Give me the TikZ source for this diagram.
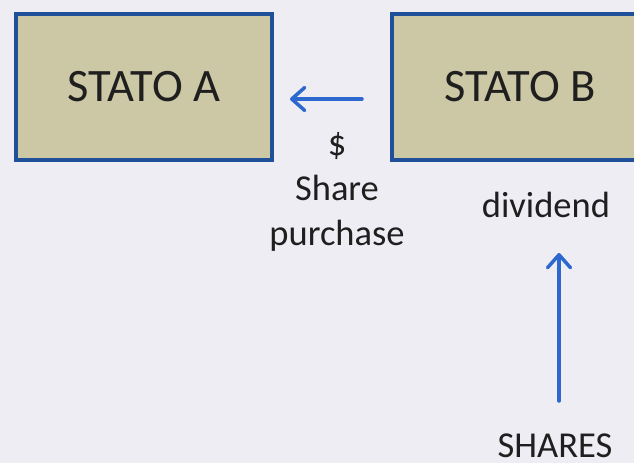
\documentclass[tikz,border=0pt]{standalone}
\usepackage{fontspec}
\setmainfont{Carlito}
\usetikzlibrary{arrows.meta}
\definecolor{bgcol}{HTML}{EDEDF3}
\definecolor{boxfill}{HTML}{CCC7A5}
\definecolor{boxline}{HTML}{21509A}
\definecolor{flow}{HTML}{2D68CF}
\tikzset{
  state/.style={draw=boxline, line width=4pt, fill=boxfill,
    minimum width=256pt, minimum height=146pt, inner sep=0pt,
    font=\fontsize{46.5}{56}\selectfont, text=black!88},
  label/.style={font=\fontsize{36.5}{45}\selectfont, text=black!88, inner sep=0pt},
  flowarrow/.style={draw=flow, line width=3.5pt, line cap=round,
    -{Straight Barb[length=13pt, width=23pt, line width=3.5pt, round]}}
}
\begin{document}
\begin{tikzpicture}[x=1pt, y=-1pt]
  \fill[bgcol] (0,0) rectangle (634,463);
  \useasboundingbox (0,0) rectangle (634,463);
  \node[state] (a) at (144,87) {STATO A};
  \node[state] (b) at (520,87) {STATO B};
  \node[label, align=center] (pay) at (337,192) {\$\\Share\\purchase};
  \node[label] (div) at (546,205) {dividend};
  \node[label] (shares) at (555,446) {SHARES};
  \coordinate (sharetop) at (559,401);
  \coordinate (divbottom) at (559,253);
  \draw[flowarrow, shorten <=28pt, shorten >=16pt] (b.west |- 0,99) -- (a.east |- 0,99);
  \draw[flowarrow] (sharetop) -- (divbottom);
\end{tikzpicture}
\end{document}
